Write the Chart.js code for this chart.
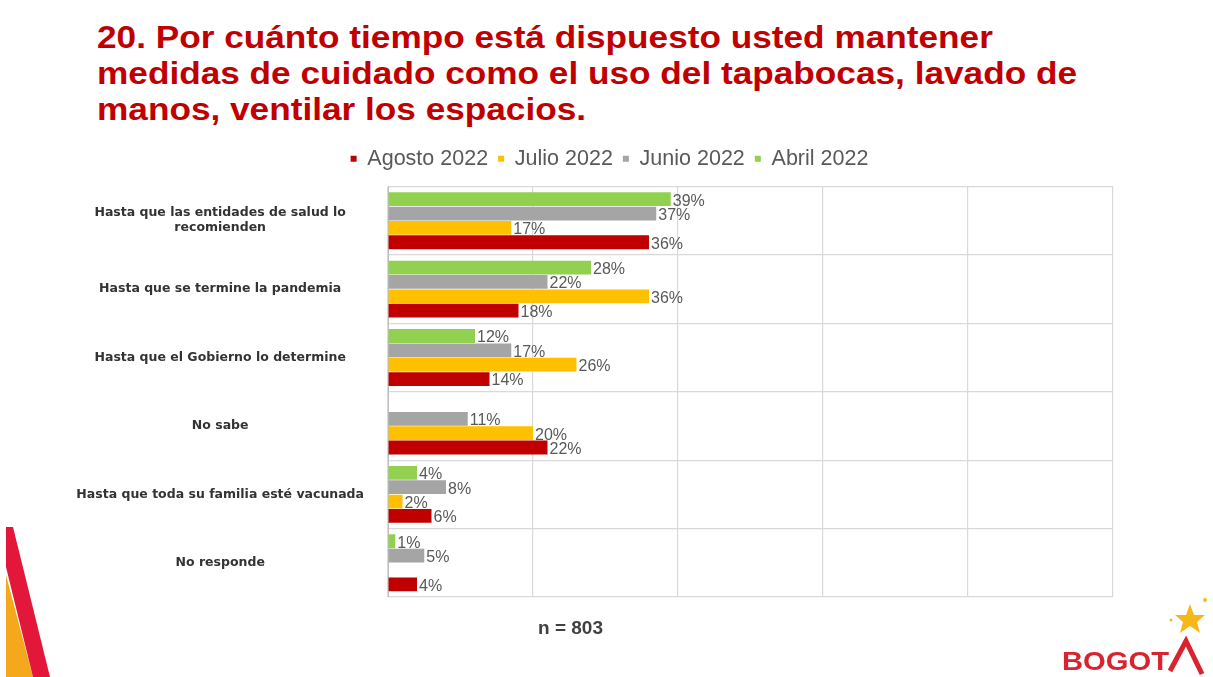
<!DOCTYPE html>
<html lang="es">
<head>
<meta charset="utf-8">
<title>Mantener medidas de cuidado</title>
<script src="https://cdn.jsdelivr.net/npm/chart.js@4.4.1/dist/chart.umd.min.js"></script>
<style>
  html, body { margin: 0; padding: 0; background: #fff; }
  body { width: 1213px; height: 677px; position: relative; overflow: hidden; font-family: "Liberation Sans", Arial, sans-serif; }
  #titulo {
    position: absolute; left: 97px; top: 19px; width: 1000px;
    color: #c00000; font-weight: bold; font-size: 32px; line-height: 36px;
    transform: scaleX(1.1); transform-origin: left top; white-space: nowrap;
  }
  #muestra {
    position: absolute; left: 538px; top: 617px;
    font-family: "Liberation Sans Narrow", "Liberation Sans", Arial, sans-serif;
    font-size: 19px; font-weight: bold; color: #404040;
  }
  #grafica { position: absolute; left: 0; top: 0; }
  svg { position: absolute; }
</style>
</head>
<body>
<div id="titulo">20. Por cuánto tiempo está dispuesto usted mantener<br>medidas de cuidado como el uso del tapabocas, lavado de<br>manos, ventilar los espacios.</div>

<canvas id="grafica" width="1213" height="677"></canvas>

<div id="muestra">n = 803</div>

<!-- franja diagonal abajo a la izquierda -->
<svg width="60" height="160" style="left:0; top:517px;">
  <polygon points="6,58 6,160 33,160" fill="#f6a81c"/>
  <polygon points="6,10 13,10 50,160 33,160 6,50" fill="#e2173a"/>
</svg>

<!-- logo -->
<svg width="160" height="85" style="left:1053px; top:592px;">
  <polygon points="137,12 141,23 152,23 144,30 147,41 137,34 127,41 130,30 122,23 133,23" fill="#f7b719"/>
  <circle cx="152" cy="8" r="2" fill="#f7b719"/>
  <circle cx="118" cy="28" r="1.5" fill="#f7b719"/>
  <text x="9" y="78" textLength="107" lengthAdjust="spacingAndGlyphs" font-family="Liberation Sans, Arial, sans-serif" font-weight="bold" font-size="25" fill="#d9232e">BOGOT</text>
  <polyline points="117,79 133,49 149,82" fill="none" stroke="#d9232e" stroke-width="5"/>
</svg>

<script>
const categorias = [
  ['Hasta que las entidades de salud lo', 'recomienden'],
  'Hasta que se termine la pandemia',
  'Hasta que el Gobierno lo determine',
  'No sabe',
  'Hasta que toda su familia esté vacunada',
  'No responde'
];

// porcentajes por medición (null = sin dato)
const abril2022  = [39, 28, 12, null, 4, 1];
const junio2022  = [37, 22, 17, 11, 8, 5];
const julio2022  = [17, 36, 26, 20, 2, null];
const agosto2022 = [36, 18, 14, 22, 6, 4];

const ejeX = { min: 0, max: 100, paso: 20 };

// etiqueta de valor al final de cada barra
const etiquetasValor = {
  id: 'etiquetasValor',
  afterDatasetsDraw(chart) {
    const ctx = chart.ctx;
    ctx.save();
    ctx.font = '16px "Liberation Sans", Arial, sans-serif';
    ctx.fillStyle = '#595959';
    ctx.textBaseline = 'middle';
    ctx.textAlign = 'left';
    chart.data.datasets.forEach((ds, i) => {
      const meta = chart.getDatasetMeta(i);
      if (meta.hidden) return;
      meta.data.forEach((bar, j) => {
        const v = ds.data[j];
        if (v === null || v === undefined) return;
        ctx.fillText(v + '%', bar.x + 2, bar.y + 2);
      });
    });
    ctx.restore();
  }
};

// la leyenda va centrada sobre toda la lámina, no sólo sobre el área del gráfico
const moverLeyenda = {
  id: 'moverLeyenda',
  afterLayout(chart) {
    const l = chart.legend;
    if (!l) return;
    l.left += 23;
    l.right += 23;
  }
};

new Chart(document.getElementById('grafica').getContext('2d'), {
  type: 'bar',
  data: {
    labels: categorias,
    datasets: [
      { label: 'Abril 2022',  data: abril2022,  backgroundColor: '#92d050' },
      { label: 'Junio 2022',  data: junio2022,  backgroundColor: '#a5a5a5' },
      { label: 'Julio 2022',  data: julio2022,  backgroundColor: '#ffc000' },
      { label: 'Agosto 2022', data: agosto2022, backgroundColor: '#c00000' }
    ]
  },
  options: {
    indexAxis: 'y',
    responsive: false,
    animation: false,
    layout: { padding: { left: 60, right: 100, top: 138, bottom: 80 } },
    datasets: { bar: { categoryPercentage: 0.84, barPercentage: 0.96 } },
    scales: {
      x: {
        position: 'top',
        min: ejeX.min, max: ejeX.max,
        ticks: { display: false, stepSize: ejeX.paso },
        grid: { color: '#d9d9d9', lineWidth: 1.2, drawTicks: false },
        border: { display: true, color: '#d9d9d9' },
        // deja un pequeño espacio entre la leyenda y el área de barras
        afterFit(scale) { scale.height = 7; }
      },
      y: {
        ticks: {
          crossAlign: 'center',
          color: '#333333',
          font: { family: '"DejaVu Sans", Verdana, sans-serif', size: 12.5, weight: 'bold' },
          padding: 24
        },
        grid: { offset: true, color: '#d9d9d9', lineWidth: 1.2, drawTicks: false },
        border: { display: true, color: '#bfbfbf' },
        afterFit(scale) { scale.width = 328; }
      }
    },
    plugins: {
      legend: {
        position: 'top',
        reverse: true,
        labels: {
          boxWidth: 6, boxHeight: 6,
          color: '#595959',
          font: { family: '"Liberation Sans", Arial, sans-serif', size: 21.5 },
          padding: 10
        }
      },
      tooltip: { enabled: false }
    }
  },
  plugins: [etiquetasValor, moverLeyenda]
});
</script>
</body>
</html>
